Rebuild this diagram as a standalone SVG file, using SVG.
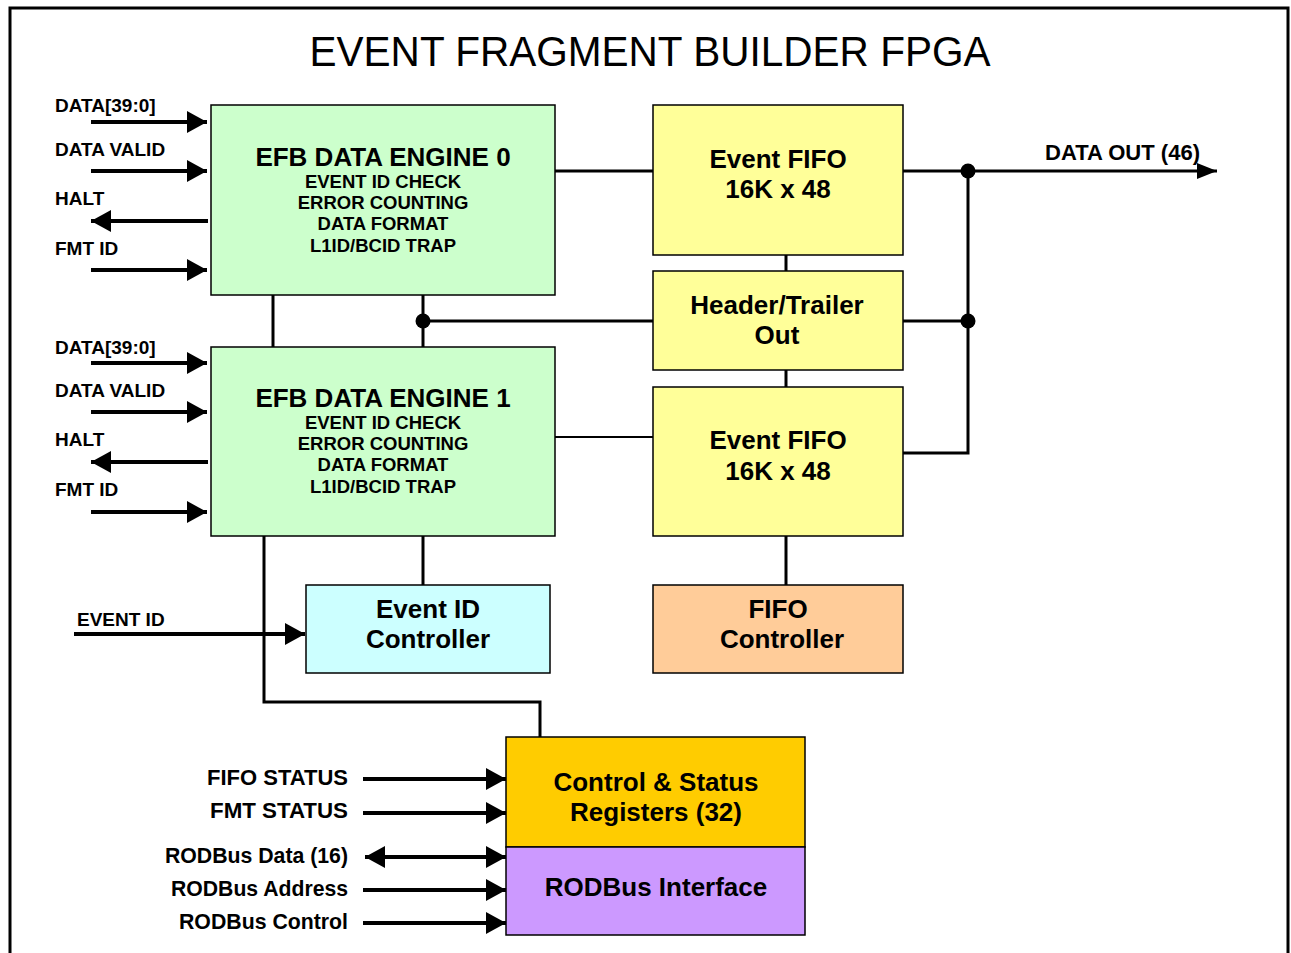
<svg xmlns="http://www.w3.org/2000/svg" width="1291" height="953" viewBox="0 0 1291 953">
  <defs>
    <style>
      .box { stroke: #000; stroke-width: 1.5; }
      .lbl { font-family: "Liberation Sans", Arial, sans-serif; font-weight: bold; font-size: 19px; fill: #000; }
      .out { font-size: 21.5px; }
      .bus { font-family: "Liberation Sans", Arial, sans-serif; font-weight: bold; font-size: 22px; fill: #000; text-anchor: end; }
      .big { font-family: "Liberation Sans", Arial, sans-serif; font-weight: bold; font-size: 26px; fill: #000; text-anchor: middle; }
      .sub { font-family: "Liberation Sans", Arial, sans-serif; font-weight: bold; font-size: 18.5px; fill: #000; text-anchor: middle; }
      .sig { stroke: #000; stroke-width: 4; fill: none; }
      .wire { stroke: #000; stroke-width: 3; fill: none; }
      .thin { stroke: #000; stroke-width: 2; fill: none; }
      .dot { fill: #000; }
    </style>
    <marker id="head" markerUnits="userSpaceOnUse" viewBox="0 0 20 22" refX="20" refY="11" markerWidth="20" markerHeight="22" orient="auto-start-reverse">
      <path d="M0,0 L20,11 L0,22 Z" fill="#000"/>
    </marker>
    <marker id="headSm" markerUnits="userSpaceOnUse" viewBox="0 0 20 16" refX="20" refY="8" markerWidth="20" markerHeight="16" orient="auto">
      <path d="M0,0 L20,8 L0,16 Z" fill="#000"/>
    </marker>
  </defs>

  <rect x="0" y="0" width="1291" height="953" fill="#fff"/>
  <!-- outer chip boundary -->
  <rect x="10" y="8" width="1278" height="960" fill="none" stroke="#000" stroke-width="3"/>

  <text x="650" y="66" font-family="'Liberation Sans', Arial, sans-serif" font-size="42" text-anchor="middle" textLength="681" lengthAdjust="spacingAndGlyphs">EVENT FRAGMENT BUILDER FPGA</text>

  <!-- connectors -->
  <g id="connectors">
    <!-- engine 0 inputs / outputs -->
    <line class="sig" x1="91" y1="122" x2="207" y2="122" marker-end="url(#head)"/>
    <line class="sig" x1="91" y1="171" x2="207" y2="171" marker-end="url(#head)"/>
    <line class="sig" x1="208" y1="221" x2="91" y2="221" marker-end="url(#head)"/>
    <line class="sig" x1="91" y1="270" x2="207" y2="270" marker-end="url(#head)"/>
    <!-- engine 1 inputs / outputs -->
    <line class="sig" x1="91" y1="363" x2="207" y2="363" marker-end="url(#head)"/>
    <line class="sig" x1="91" y1="412" x2="207" y2="412" marker-end="url(#head)"/>
    <line class="sig" x1="208" y1="462" x2="91" y2="462" marker-end="url(#head)"/>
    <line class="sig" x1="91" y1="512" x2="207" y2="512" marker-end="url(#head)"/>
    <!-- event id input -->
    <line class="sig" x1="74" y1="634" x2="305" y2="634" marker-end="url(#head)"/>
    <!-- register / bus inputs -->
    <line class="sig" x1="363" y1="779" x2="506" y2="779" marker-end="url(#head)"/>
    <line class="sig" x1="363" y1="813" x2="506" y2="813" marker-end="url(#head)"/>
    <line class="sig" x1="365" y1="857" x2="506" y2="857" marker-start="url(#head)" marker-end="url(#head)"/>
    <line class="sig" x1="363" y1="890" x2="506" y2="890" marker-end="url(#head)"/>
    <line class="sig" x1="363" y1="923" x2="506" y2="923" marker-end="url(#head)"/>

    <!-- engines to FIFOs -->
    <line class="wire" x1="555" y1="171" x2="653" y2="171"/>
    <line class="thin" x1="555" y1="437" x2="653" y2="437"/>
    <!-- between engines -->
    <line class="wire" x1="273" y1="295" x2="273" y2="347"/>
    <line class="wire" x1="423" y1="295" x2="423" y2="347"/>
    <line class="wire" x1="423" y1="321" x2="653" y2="321"/>
    <circle class="dot" cx="423" cy="321" r="7.5"/>
    <!-- FIFO column -->
    <line class="wire" x1="786" y1="255" x2="786" y2="271"/>
    <line class="wire" x1="786" y1="370" x2="786" y2="387"/>
    <line class="wire" x1="786" y1="536" x2="786" y2="585"/>
    <!-- engine 1 to event id controller and registers -->
    <line class="wire" x1="423" y1="536" x2="423" y2="585"/>
    <polyline class="wire" points="264,536 264,702 540,702 540,737"/>
    <!-- output bus -->
    <line class="wire" x1="903" y1="171" x2="1217" y2="171" marker-end="url(#headSm)"/>
    <line class="wire" x1="903" y1="321" x2="968" y2="321"/>
    <polyline class="wire" points="903,453 968,453 968,171"/>
    <circle class="dot" cx="968" cy="171" r="7.5"/>
    <circle class="dot" cx="968" cy="321" r="7.5"/>
  </g>

  <!-- signal labels -->
  <g id="labels">
    <text class="lbl" x="55" y="112">DATA[39:0]</text>
    <text class="lbl" x="55" y="156">DATA VALID</text>
    <text class="lbl" x="55" y="205">HALT</text>
    <text class="lbl" x="55" y="255">FMT ID</text>
    <text class="lbl" x="55" y="354">DATA[39:0]</text>
    <text class="lbl" x="55" y="397">DATA VALID</text>
    <text class="lbl" x="55" y="446">HALT</text>
    <text class="lbl" x="55" y="496">FMT ID</text>
    <text class="lbl" x="77" y="626">EVENT ID</text>
    <text class="lbl out" x="1045" y="160" textLength="155" lengthAdjust="spacingAndGlyphs">DATA OUT (46)</text>
    <text class="bus" x="348" y="785" textLength="141" lengthAdjust="spacingAndGlyphs">FIFO STATUS</text>
    <text class="bus" x="348" y="818" textLength="138" lengthAdjust="spacingAndGlyphs">FMT STATUS</text>
    <text class="bus" x="348" y="863" textLength="183" lengthAdjust="spacingAndGlyphs">RODBus Data (16)</text>
    <text class="bus" x="348" y="896" textLength="177" lengthAdjust="spacingAndGlyphs">RODBus Address</text>
    <text class="bus" x="348" y="929" textLength="169" lengthAdjust="spacingAndGlyphs">RODBus Control</text>
  </g>

  <g id="engine0">
    <rect class="box" x="211" y="105" width="344" height="190" fill="#CCFFCC"/>
    <text class="big" x="383" y="166">EFB DATA ENGINE 0</text>
    <text class="sub" x="383" y="188">EVENT ID CHECK</text>
    <text class="sub" x="383" y="209">ERROR COUNTING</text>
    <text class="sub" x="383" y="230">DATA FORMAT</text>
    <text class="sub" x="383" y="252">L1ID/BCID TRAP</text>
  </g>

  <g id="engine1">
    <rect class="box" x="211" y="347" width="344" height="189" fill="#CCFFCC"/>
    <text class="big" x="383" y="407">EFB DATA ENGINE 1</text>
    <text class="sub" x="383" y="429">EVENT ID CHECK</text>
    <text class="sub" x="383" y="450">ERROR COUNTING</text>
    <text class="sub" x="383" y="471">DATA FORMAT</text>
    <text class="sub" x="383" y="493">L1ID/BCID TRAP</text>
  </g>

  <g id="fifo0">
    <rect class="box" x="653" y="105" width="250" height="150" fill="#FFFF99"/>
    <text class="big" x="778" y="168">Event FIFO</text>
    <text class="big" x="778" y="198">16K x 48</text>
  </g>

  <g id="header-trailer">
    <rect class="box" x="653" y="271" width="250" height="99" fill="#FFFF99"/>
    <text class="big" x="777" y="314">Header/Trailer</text>
    <text class="big" x="777" y="344">Out</text>
  </g>

  <g id="fifo1">
    <rect class="box" x="653" y="387" width="250" height="149" fill="#FFFF99"/>
    <text class="big" x="778" y="449">Event FIFO</text>
    <text class="big" x="778" y="480">16K x 48</text>
  </g>

  <g id="event-id-controller">
    <rect class="box" x="306" y="585" width="244" height="88" fill="#CCFFFF"/>
    <text class="big" x="428" y="618">Event ID</text>
    <text class="big" x="428" y="648">Controller</text>
  </g>

  <g id="fifo-controller">
    <rect class="box" x="653" y="585" width="250" height="88" fill="#FFCC99"/>
    <text class="big" x="778" y="618">FIFO</text>
    <text class="big" x="782" y="648">Controller</text>
  </g>

  <g id="csr">
    <rect class="box" x="506" y="737" width="299" height="110" fill="#FFCC00"/>
    <text class="big" x="656" y="791">Control &amp; Status</text>
    <text class="big" x="656" y="821">Registers (32)</text>
  </g>

  <g id="rodbus">
    <rect class="box" x="506" y="847" width="299" height="88" fill="#CC99FF"/>
    <text class="big" x="656" y="896">RODBus Interface</text>
  </g>
</svg>
